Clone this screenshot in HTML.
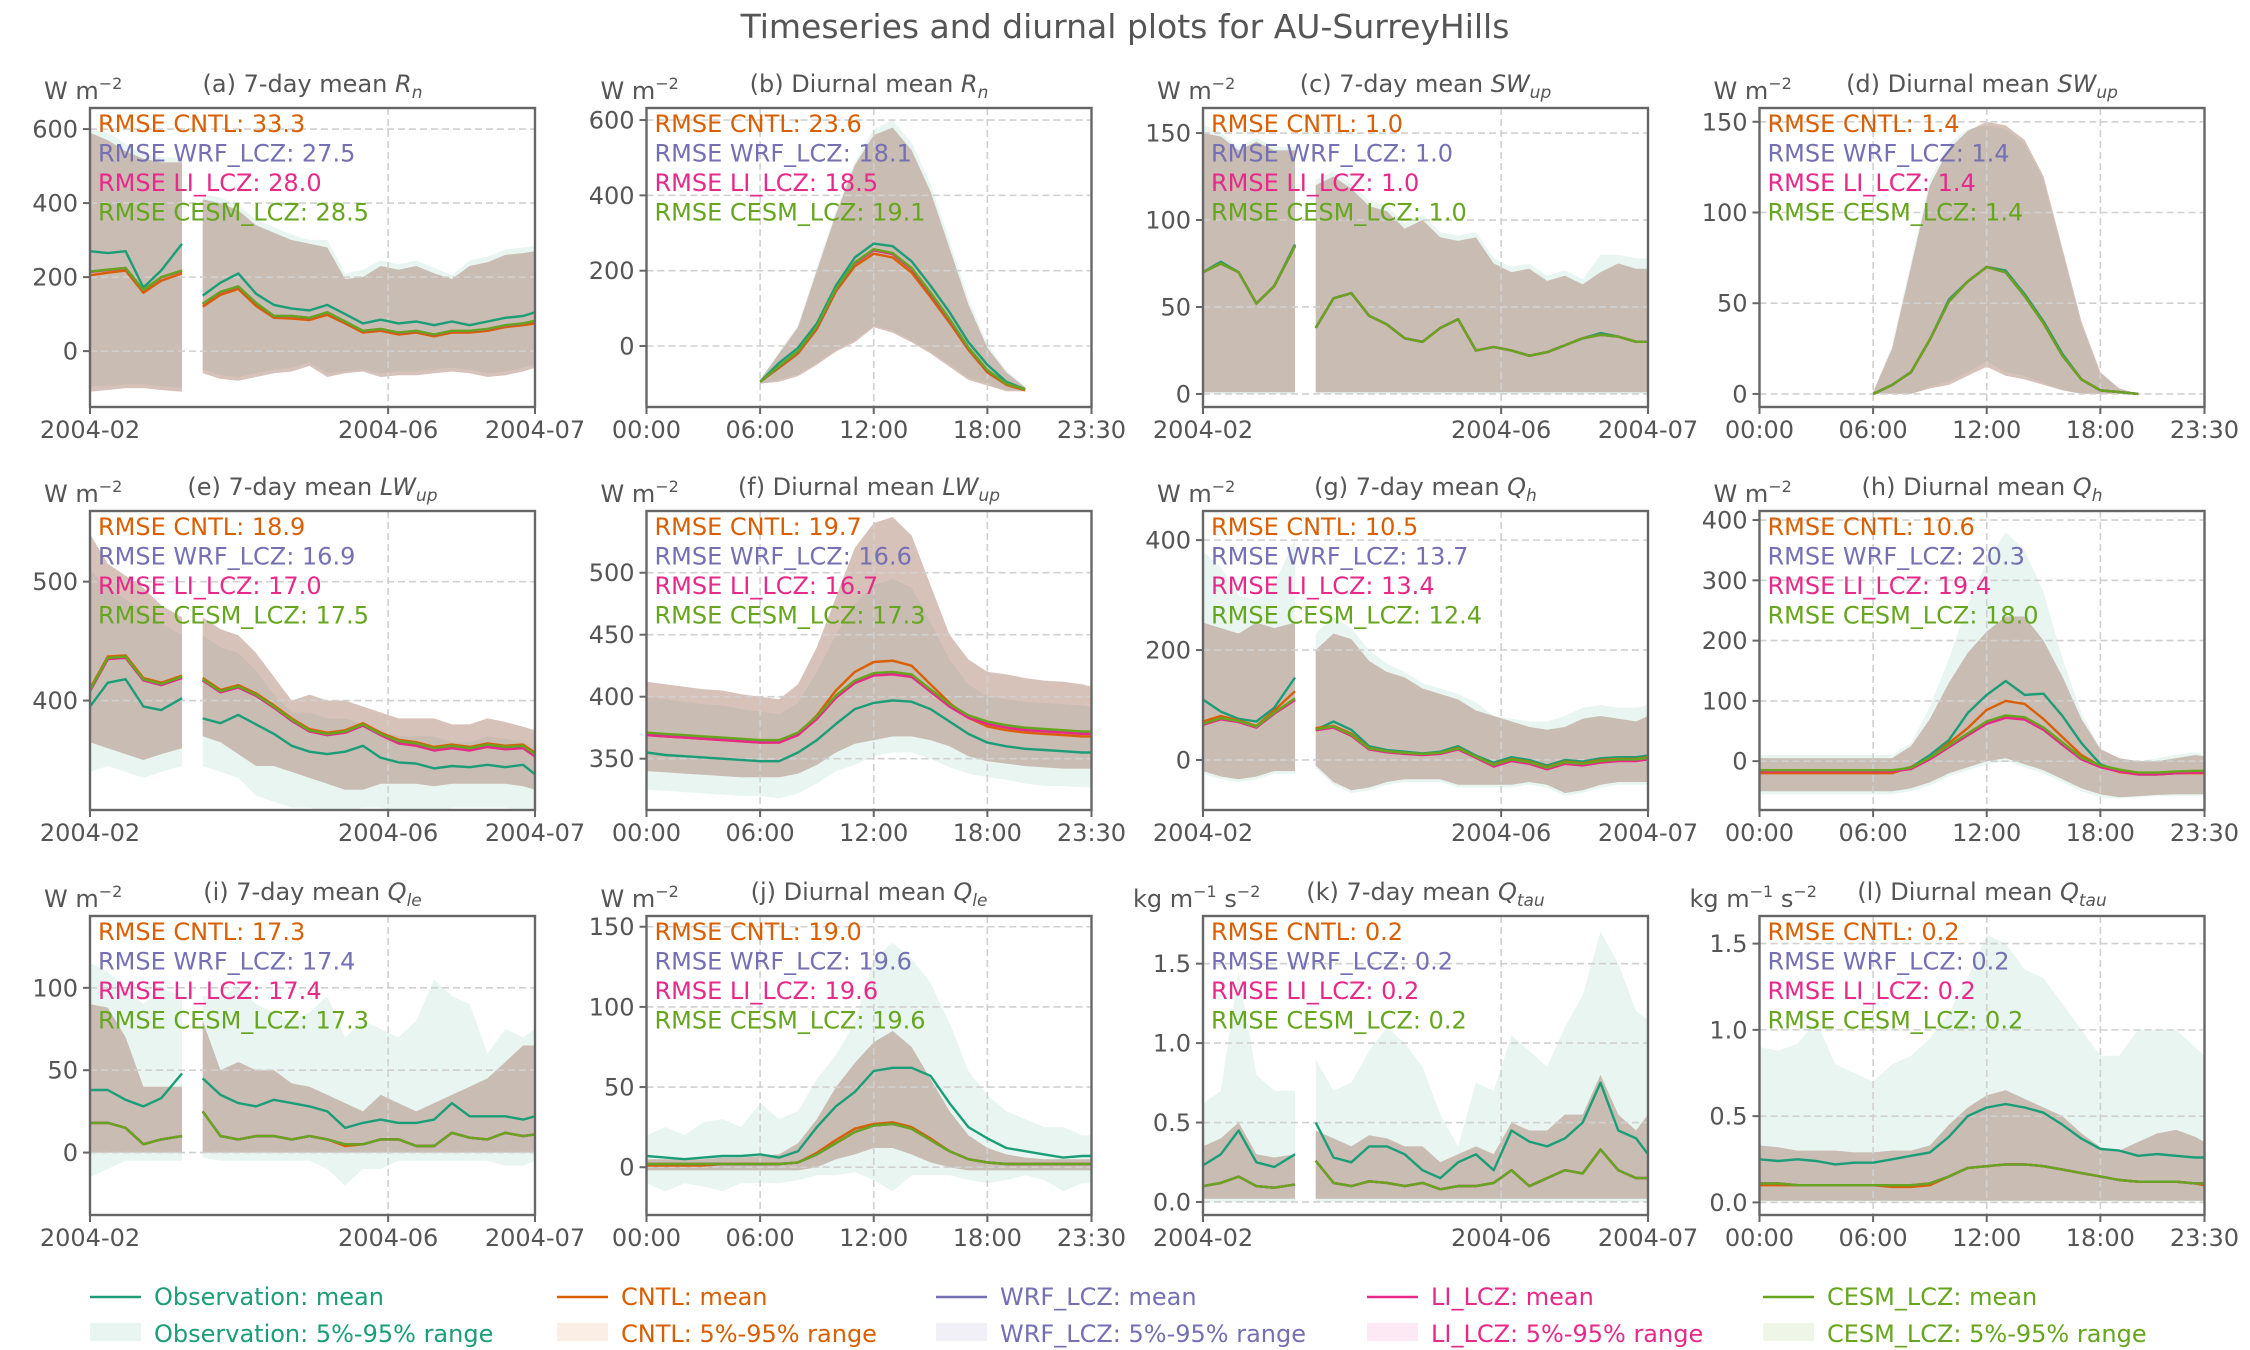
<!DOCTYPE html>
<html><head><meta charset="utf-8"><title>Timeseries and diurnal plots for AU-SurreyHills</title>
<style>html,body{margin:0;padding:0;background:#fff}svg{display:block}text{font-family:"DejaVu Sans","Liberation Sans",sans-serif}</style>
</head><body>
<svg id="fig" xmlns="http://www.w3.org/2000/svg" width="2250" height="1350" viewBox="0 0 2250 1350">
<rect x="0" y="0" width="2250" height="1350" fill="#fff"/>
<text x="1125" y="38" text-anchor="middle" font-size="33" fill="#555">Timeseries and diurnal plots for AU-SurreyHills</text>
</svg>
<script>
// ---- x coordinates ----
const tsDays = [0,6,12,18,24,31,35,38,44,50,56,62,68,74,80,86,92,98,104,110,116,122,128,134,140,146,150];
const tsTickVals = [0,100.5,150];
const tsTickLabels = ['2004-02','2004-06','2004-07'];
const hours = [0,1,2,3,4,5,6,7,8,9,10,11,12,13,14,15,16,17,18,19,20,21,22,23,23.5];
const hourTickVals = [0,6,12,18,23.5];
const hourTickLabels = ['00:00','06:00','12:00','18:00','23:30'];

// ---- (a) 7-day Rn ----
const aObs = [270,265,270,172,218,290,null,150,185,210,155,125,115,110,125,100,75,85,75,80,70,80,70,80,90,95,105];
const aCntl = [205,212,218,158,190,210,null,120,152,168,122,90,88,84,98,75,50,55,45,50,40,50,50,55,65,70,75];
const aWrf = [215,220,225,165,200,218,null,128,160,175,130,95,95,90,105,80,55,60,50,55,45,55,55,60,70,75,82];
const aLi = [214,219,224,164,199,217,null,127,159,174,129,94,94,89,104,79,54,59,49,54,44,54,54,59,69,74,81];
const aCesm = [215,220,225,165,200,218,null,128,160,175,130,95,95,90,105,80,55,60,50,55,45,55,55,60,70,75,82];
const aModHi = [590,570,540,520,510,510,null,410,400,380,340,320,300,290,280,195,200,230,220,230,210,195,230,240,260,265,270];
const aModLo = [-110,-105,-100,-100,-105,-110,null,-60,-75,-80,-70,-60,-55,-40,-70,-60,-55,-70,-65,-65,-60,-55,-60,-70,-65,-55,-45];
const aObsHi = [600,590,560,530,525,520,null,425,415,395,355,335,315,300,300,210,220,245,235,245,225,205,245,255,275,280,285];
const aObsLo = [-95,-95,-90,-90,-95,-100,null,-50,-65,-70,-60,-50,-45,-30,-60,-55,-50,-60,-55,-55,-50,-45,-50,-60,-55,-45,-35];
// ---- (b) diurnal Rn ----
const bObs = [null,null,null,null,null,null,-95,-45,-5,60,160,235,272,265,225,160,90,10,-50,-95,-115,null,null,null,null];
const bCntl = [null,null,null,null,null,null,-95,-58,-20,45,145,212,245,235,195,130,62,-10,-70,-103,-118,null,null,null,null];
const bWrf = [null,null,null,null,null,null,-95,-55,-15,50,150,220,255,245,205,140,70,-5,-65,-100,-115,null,null,null,null];
const bLi = [null,null,null,null,null,null,-95,-55,-15,50,150,220,254,244,204,139,69,-5,-65,-100,-115,null,null,null,null];
const bCesm = [null,null,null,null,null,null,-95,-54,-14,52,152,222,257,247,207,142,72,-4,-64,-100,-115,null,null,null,null];
const bModHi = [null,null,null,null,null,null,-90,-20,50,200,350,480,560,580,520,410,260,110,-5,-70,-110,null,null,null,null];
const bModLo = [null,null,null,null,null,null,-100,-95,-80,-50,-15,10,50,35,10,-20,-55,-90,-105,-120,-120,null,null,null,null];
const bObsHi = [null,null,null,null,null,null,-90,-15,55,210,360,490,575,600,540,430,280,125,5,-65,-108,null,null,null,null];
const bObsLo = [null,null,null,null,null,null,-100,-90,-75,-45,-10,15,55,40,15,-15,-50,-85,-100,-118,-118,null,null,null,null];
// ---- (c) 7-day SWup ----
const cObs = [70,76,70,52,62,86,null,38,55,58,45,40,32,30,38,43,25,27,25,22,24,28,32,35,33,30,30];
const cCntl = [70,75,70,52,62,85,null,38,55,58,45,40,32,30,38,43,25,27,25,22,24,28,32,34,33,30,30];
const cWrf = [70,75,70,52,62,85,null,38,55,58,45,40,32,30,38,43,25,27,25,22,24,28,32,34,33,30,30];
const cLi = [70,75,70,52,62,85,null,38,55,58,45,40,32,30,38,43,25,27,25,22,24,28,32,34,33,30,30];
const cCesm = [70,75,70,52,62,85,null,38,55,58,45,40,32,30,38,43,25,27,25,22,24,28,32,34,33,30,30];
const cModHi = [150,148,140,145,140,140,null,120,125,118,108,105,95,100,90,88,90,75,70,72,65,68,63,70,75,72,72];
const cModLo = [1,1,1,1,1,1,null,1,1,1,1,1,1,1,1,1,1,1,1,1,1,1,1,1,1,1,1];
const cObsHi = [155,150,142,147,142,142,null,123,128,121,111,108,98,103,93,91,93,78,73,75,68,71,66,80,80,78,78];
const cObsLo = [0,0,0,0,0,0,null,0,0,0,0,0,0,0,0,0,0,0,0,0,0,0,0,0,0,0,0];
// ---- (d) diurnal SWup ----
const dObs = [null,null,null,null,null,null,0,5,12,30,52,62,70,68,55,40,22,8,2,1,0,null,null,null,null];
const dCntl = [null,null,null,null,null,null,0,5,12,30,51,62,70,67,54,39,21,8,2,1,0,null,null,null,null];
const dWrf = [null,null,null,null,null,null,0,5,12,30,51,62,70,67,54,39,21,8,2,1,0,null,null,null,null];
const dLi = [null,null,null,null,null,null,0,5,12,30,51,62,70,67,54,39,21,8,2,1,0,null,null,null,null];
const dCesm = [null,null,null,null,null,null,0,5,12,30,51,62,70,67,54,39,21,8,2,1,0,null,null,null,null];
const dModHi = [null,null,null,null,null,null,1,25,70,115,135,145,150,148,140,120,80,40,12,3,0,null,null,null,null];
const dModLo = [null,null,null,null,null,null,0,0,0,3,5,10,15,10,8,5,2,0,0,0,0,null,null,null,null];
const dObsHi = [null,null,null,null,null,null,1,27,73,118,138,146,148,146,138,118,78,38,11,3,0,null,null,null,null];
const dObsLo = [null,null,null,null,null,null,0,0,0,4,7,12,18,12,10,6,2,0,0,0,0,null,null,null,null];
// ---- (e) 7-day LWup ----
const eObs = [395,415,418,395,392,402,null,385,381,388,380,372,362,357,355,357,362,352,348,347,343,345,344,346,344,346,338];
const eCntl = [410,437,438,419,415,421,null,419,409,413,406,396,385,376,373,375,381,373,367,365,361,363,361,364,362,363,356];
const eWrf = [408,435,436,417,413,419,null,417,407,411,404,394,383,374,371,373,379,371,365,363,359,361,359,362,360,361,354];
const eLi = [408,435,436,417,413,419,null,417,407,411,404,394,383,374,371,373,379,371,364,362,358,360,358,361,359,360,353];
const eCesm = [409,436,437,418,414,420,null,418,408,412,405,395,384,375,372,374,380,372,366,364,360,362,360,363,361,362,355];
const eModHi = [540,515,505,495,480,470,null,470,460,455,440,420,400,405,400,400,395,390,385,385,385,380,380,385,382,378,375];
const eModLo = [365,360,355,350,355,360,null,370,365,355,345,345,340,335,330,325,325,330,330,330,328,330,330,330,330,328,325];
const eObsHi = [510,495,485,475,465,455,null,455,445,440,425,405,390,390,385,385,380,375,370,370,370,365,365,370,368,365,360];
const eObsLo = [340,345,340,335,340,345,null,345,340,335,320,315,310,310,305,305,310,310,305,305,305,310,310,310,310,308,305];
// ---- (f) diurnal LWup ----
const fObs = [355,353,352,351,350,349,348,348,355,365,378,390,395,397,396,390,380,370,363,360,358,357,356,355,355];
const fCntl = [369,368,367,366,365,364,363,363,370,385,405,420,428,429,425,410,395,383,376,373,371,370,369,368,368];
const fWrf = [370,369,368,367,366,365,364,364,370,383,400,412,418,419,417,405,393,384,379,376,374,373,372,371,371];
const fLi = [369,368,367,366,365,364,363,363,369,382,399,411,417,418,416,404,392,383,378,375,373,372,371,370,370];
const fCesm = [371,370,369,368,367,366,365,365,371,384,401,413,419,420,418,406,394,385,380,377,375,374,373,372,372];
const fModHi = [412,410,408,406,405,402,400,398,410,440,480,520,540,545,530,490,450,430,420,418,415,413,412,410,408];
const fModLo = [340,339,338,337,336,335,335,335,338,345,355,362,365,368,368,365,360,352,348,346,344,343,342,342,342];
const fObsHi = [400,398,396,394,393,390,388,386,395,420,450,475,490,495,488,460,430,410,400,398,396,395,394,393,392];
const fObsLo = [325,324,323,322,321,320,320,318,322,330,340,345,352,355,355,350,343,338,335,333,330,328,328,327,327];
// ---- (g) 7-day Qh ----
const gObs = [110,88,75,70,95,150,null,55,70,55,25,18,15,12,15,25,8,-5,5,0,-10,0,-3,3,5,5,8];
const gCntl = [70,80,72,62,90,125,null,58,62,48,22,16,13,10,13,22,6,-8,2,-3,-13,-3,-6,0,2,2,5];
const gWrf = [65,75,70,60,85,110,null,55,60,45,20,15,12,10,12,20,5,-10,0,-5,-15,-5,-8,-3,0,0,3];
const gLi = [64,74,69,59,84,109,null,54,59,44,19,14,11,9,11,19,4,-12,-2,-7,-17,-7,-10,-5,-2,-2,1];
const gCesm = [66,76,71,61,86,112,null,56,61,46,21,16,13,11,13,21,6,-9,1,-4,-14,-4,-7,-2,1,1,4];
const gModHi = [250,240,230,250,240,250,null,200,230,220,180,160,150,130,120,110,90,80,70,60,55,60,75,80,75,70,80];
const gModLo = [-20,-30,-35,-30,-20,-20,null,-10,-40,-55,-50,-40,-35,-35,-35,-45,-45,-45,-45,-40,-45,-60,-55,-45,-40,-40,-40];
const gObsHi = [380,350,300,290,320,400,null,230,260,240,200,175,160,140,130,120,105,80,75,70,70,80,95,100,95,95,100];
const gObsLo = [-25,-35,-40,-35,-25,-25,null,-15,-45,-60,-55,-45,-40,-40,-40,-50,-50,-50,-50,-45,-50,-65,-60,-50,-45,-45,-45];
// ---- (h) diurnal Qh ----
const hObs = [-17,-17,-17,-17,-17,-17,-17,-17,-10,10,35,80,110,133,110,112,75,30,-5,-17,-22,-22,-20,-18,-18];
const hCntl = [-20,-20,-20,-20,-20,-20,-20,-20,-10,5,30,55,85,100,95,70,40,10,-8,-18,-22,-22,-20,-20,-20];
const hWrf = [-16,-16,-16,-16,-16,-16,-16,-16,-12,4,24,44,63,73,70,53,28,4,-9,-16,-21,-21,-19,-18,-18];
const hLi = [-17,-17,-17,-17,-17,-17,-17,-17,-13,3,23,43,62,72,69,52,27,3,-10,-17,-22,-22,-20,-19,-19];
const hCesm = [-15,-15,-15,-15,-15,-15,-15,-15,-11,6,26,46,66,76,73,56,31,6,-7,-14,-19,-19,-17,-16,-16];
const hModHi = [5,5,5,5,5,5,5,5,25,70,130,180,215,240,240,200,140,70,20,5,0,0,5,10,8];
const hModLo = [-50,-50,-50,-50,-50,-50,-50,-50,-45,-35,-20,-10,0,5,-5,-15,-30,-45,-55,-60,-58,-56,-55,-55,-55];
const hObsHi = [10,10,10,10,10,10,10,10,30,90,170,260,330,380,350,280,170,80,20,5,0,5,10,15,10];
const hObsLo = [-55,-55,-55,-55,-55,-55,-55,-55,-50,-40,-25,-15,-5,0,-10,-20,-35,-50,-60,-62,-60,-58,-58,-58,-58];
// ---- (i) 7-day Qle ----
const iObs = [38,38,32,28,33,48,null,45,35,30,28,32,30,28,25,15,18,20,18,18,20,30,22,22,22,20,22];
const iCntl = [18,18,15,5,8,10,null,25,10,8,10,10,8,10,8,4,5,8,8,4,4,12,9,8,12,10,11];
const iWrf = [18,18,15,5,8,10,null,25,10,8,10,10,8,10,8,5,5,8,8,4,4,12,9,8,12,10,11];
const iLi = [18,18,15,5,8,10,null,25,10,8,10,10,8,10,8,5,5,8,8,4,4,12,9,8,12,10,11];
const iCesm = [18,18,15,5,8,10,null,25,10,8,10,10,8,10,8,5,5,8,8,4,4,12,9,8,12,10,11];
const iModHi = [90,88,70,40,40,40,null,80,50,55,50,50,42,40,35,30,25,35,30,25,30,35,40,45,55,65,65];
const iModLo = [0,0,0,0,0,0,null,0,0,0,0,0,0,0,0,0,0,0,0,0,0,0,0,0,0,0,0];
const iObsHi = [115,110,100,90,100,95,null,95,95,100,90,85,80,85,95,70,80,75,70,80,105,95,90,60,75,70,75];
const iObsLo = [-15,-10,-5,-5,-5,-5,null,-3,-5,-5,-5,-5,-5,-5,-10,-20,-10,-10,-5,-5,-5,-5,-5,-5,-8,-8,-5];
// ---- (j) diurnal Qle ----
const jObs = [7,6,5,6,7,7,8,6,10,25,38,47,60,62,62,57,40,25,18,12,10,8,6,7,7];
const jCntl = [1,1,1,1,2,2,2,2,3,9,17,24,27,28,25,18,10,5,3,2,2,2,2,2,2];
const jWrf = [2,2,2,2,2,2,2,2,3,8,15,22,26,27,24,17,10,5,3,2,2,2,2,2,2];
const jLi = [2,2,2,2,2,2,2,2,3,8,15,22,26,27,24,17,10,5,3,2,2,2,2,2,2];
const jCesm = [2,2,2,2,2,2,2,2,3,8,15,22,26,27,24,17,10,5,3,2,2,2,2,2,2];
const jModHi = [5,5,5,5,6,6,7,8,15,30,50,65,78,85,75,55,35,20,12,8,6,5,5,5,5];
const jModLo = [-2,-2,-2,-2,-2,-2,-2,-2,-2,0,5,8,12,12,8,3,0,-2,-2,-2,-2,-2,-2,-2,-2];
const jObsHi = [20,25,20,28,30,25,40,30,35,55,70,90,130,140,130,115,90,60,45,35,30,25,25,20,20];
const jObsLo = [-10,-15,-10,-12,-15,-10,-10,-10,-8,-5,-5,-3,-8,-15,-5,-5,-5,-8,-10,-8,-5,-8,-15,-10,-10];
// ---- (k) 7-day Qtau ----
const kObs = [0.23,0.30,0.45,0.25,0.22,0.30,null,0.50,0.28,0.25,0.35,0.35,0.30,0.20,0.15,0.25,0.30,0.20,0.45,0.38,0.35,0.40,0.50,0.75,0.45,0.40,0.30];
const kCntl = [0.10,0.12,0.16,0.10,0.09,0.11,null,0.26,0.12,0.10,0.13,0.12,0.10,0.12,0.08,0.10,0.10,0.12,0.20,0.10,0.15,0.20,0.18,0.33,0.20,0.15,0.15];
const kWrf = [0.10,0.12,0.16,0.10,0.09,0.11,null,0.26,0.12,0.10,0.13,0.12,0.10,0.12,0.08,0.10,0.10,0.12,0.20,0.10,0.15,0.20,0.18,0.33,0.20,0.15,0.15];
const kLi = [0.10,0.12,0.16,0.10,0.09,0.11,null,0.26,0.12,0.10,0.13,0.12,0.10,0.12,0.08,0.10,0.10,0.12,0.20,0.10,0.15,0.20,0.18,0.33,0.20,0.15,0.15];
const kCesm = [0.10,0.12,0.16,0.10,0.09,0.11,null,0.26,0.12,0.10,0.13,0.12,0.10,0.12,0.08,0.10,0.10,0.12,0.20,0.10,0.15,0.20,0.18,0.33,0.20,0.15,0.15];
const kModHi = [0.35,0.40,0.50,0.30,0.28,0.30,null,0.45,0.40,0.35,0.42,0.40,0.35,0.35,0.25,0.30,0.35,0.30,0.50,0.45,0.45,0.55,0.55,0.80,0.55,0.45,0.55];
const kModLo = [0.02,0.02,0.02,0.02,0.02,0.02,null,0.02,0.02,0.02,0.02,0.02,0.02,0.02,0.02,0.02,0.02,0.02,0.02,0.02,0.02,0.02,0.02,0.02,0.02,0.02,0.02];
const kObsHi = [0.62,0.70,1.45,0.80,0.70,0.70,null,0.90,0.70,0.75,0.95,1.10,1.00,0.85,0.55,0.35,0.75,0.70,1.05,0.95,0.85,1.10,1.30,1.70,1.50,1.20,1.15];
const kObsLo = [0,0,0,0,0,0,null,0,0,0,0,0,0,0,0,0,0,0,0,0,0,0,0,0,0,0,0];
// ---- (l) diurnal Qtau ----
const lObs = [0.25,0.24,0.25,0.24,0.22,0.23,0.23,0.25,0.27,0.29,0.38,0.50,0.55,0.57,0.55,0.52,0.45,0.37,0.31,0.30,0.27,0.28,0.27,0.26,0.26];
const lCntl = [0.10,0.10,0.10,0.10,0.10,0.10,0.10,0.09,0.09,0.10,0.15,0.20,0.21,0.22,0.22,0.21,0.19,0.17,0.15,0.13,0.12,0.12,0.12,0.11,0.10];
const lWrf = [0.11,0.11,0.10,0.10,0.10,0.10,0.10,0.10,0.10,0.11,0.15,0.20,0.21,0.22,0.22,0.21,0.19,0.17,0.15,0.13,0.12,0.12,0.12,0.11,0.11];
const lLi = [0.11,0.11,0.10,0.10,0.10,0.10,0.10,0.10,0.10,0.11,0.15,0.20,0.21,0.22,0.22,0.21,0.19,0.17,0.15,0.13,0.12,0.12,0.12,0.11,0.11];
const lCesm = [0.11,0.11,0.10,0.10,0.10,0.10,0.10,0.10,0.10,0.11,0.15,0.20,0.21,0.22,0.22,0.21,0.19,0.17,0.15,0.13,0.12,0.12,0.12,0.11,0.11];
const lModHi = [0.33,0.32,0.30,0.30,0.30,0.29,0.29,0.30,0.30,0.33,0.45,0.55,0.62,0.65,0.60,0.55,0.50,0.40,0.32,0.30,0.35,0.40,0.42,0.38,0.35];
const lModLo = [0.01,0.01,0.01,0.01,0.01,0.01,0.01,0.01,0.01,0.01,0.01,0.01,0.01,0.01,0.01,0.01,0.01,0.01,0.01,0.01,0.01,0.01,0.01,0.01,0.01];
const lObsHi = [0.90,0.88,0.92,1.05,0.80,0.75,0.70,0.80,0.85,0.95,1.10,1.30,1.55,1.50,1.35,1.30,1.15,1.00,0.85,0.85,1.00,1.00,1.00,0.90,0.85];
const lObsLo = [0,0,0,0,0,0,0,0,0,0,0,0,0,0,0,0,0,0,0,0,0,0,0,0,0];

// ---- tick value arrays ----
const ticksRn = [0,200,400,600];
const ticksSW = [0,50,100,150];
const ticksLWe = [400,500];
const ticksLWf = [350,400,450,500];
const ticksQhg = [0,200,400];
const ticksQhh = [0,100,200,300,400];
const ticksQlei = [0,50,100];
const ticksQlej = [0,50,100,150];
const ticksTau = [0,0.5,1.0,1.5];

// ---- RMSE values (CNTL, WRF_LCZ, LI_LCZ, CESM_LCZ) ----
const rmseA = ['33.3','27.5','28.0','28.5'];
const rmseB = ['23.6','18.1','18.5','19.1'];
const rmseC = ['1.0','1.0','1.0','1.0'];
const rmseD = ['1.4','1.4','1.4','1.4'];
const rmseE = ['18.9','16.9','17.0','17.5'];
const rmseF = ['19.7','16.6','16.7','17.3'];
const rmseG = ['10.5','13.7','13.4','12.4'];
const rmseH = ['10.6','20.3','19.4','18.0'];
const rmseI = ['17.3','17.4','17.4','17.3'];
const rmseJ = ['19.0','19.6','19.6','19.6'];
const rmseK = ['0.2','0.2','0.2','0.2'];
const rmseL = ['0.2','0.2','0.2','0.2'];

const COL = {obs:'#1b9e77', cntl:'#d95f02', wrf:'#7570b3', li:'#e7298a', cesm:'#66a61e'};
const MODELNAMES = ['CNTL','WRF_LCZ','LI_LCZ','CESM_LCZ'];
const MODELKEYS = ['cntl','wrf','li','cesm'];
const svg = document.getElementById('fig');
const NS = 'http://www.w3.org/2000/svg';
function mk(tag, attrs, parent){ const e=document.createElementNS(NS,tag); for(const k in attrs) e.setAttribute(k,attrs[k]); (parent||svg).appendChild(e); return e; }

const W = 445, H = 299;
const colX = [90, 646.5, 1203, 1759.5];
const rowY = [108, 511, 916];

const panels = [
 {id:'a',r:0,c:0,ts:true,ymin:-151,ymax:657,yt:ticksRn,dec:false,sym:'R',sub:'n',unit:'W',obs:aObs,obsLo:aObsLo,obsHi:aObsHi,m:[aCntl,aWrf,aLi,aCesm],lo:aModLo,hi:aModHi,rmse:rmseA},
 {id:'b',r:0,c:1,ts:false,ymin:-162,ymax:632,yt:ticksRn,dec:false,sym:'R',sub:'n',unit:'W',obs:bObs,obsLo:bObsLo,obsHi:bObsHi,m:[bCntl,bWrf,bLi,bCesm],lo:bModLo,hi:bModHi,rmse:rmseB},
 {id:'c',r:0,c:2,ts:true,ymin:-7.5,ymax:164.4,yt:ticksSW,dec:false,sym:'SW',sub:'up',unit:'W',obs:cObs,obsLo:cObsLo,obsHi:cObsHi,m:[cCntl,cWrf,cLi,cCesm],lo:cModLo,hi:cModHi,rmse:rmseC},
 {id:'d',r:0,c:3,ts:false,ymin:-7.2,ymax:157.6,yt:ticksSW,dec:false,sym:'SW',sub:'up',unit:'W',obs:dObs,obsLo:dObsLo,obsHi:dObsHi,m:[dCntl,dWrf,dLi,dCesm],lo:dModLo,hi:dModHi,rmse:rmseD},
 {id:'e',r:1,c:0,ts:true,ymin:308,ymax:559.4,yt:ticksLWe,dec:false,sym:'LW',sub:'up',unit:'W',obs:eObs,obsLo:eObsLo,obsHi:eObsHi,m:[eCntl,eWrf,eLi,eCesm],lo:eModLo,hi:eModHi,rmse:rmseE},
 {id:'f',r:1,c:1,ts:false,ymin:308.6,ymax:549.8,yt:ticksLWf,dec:false,sym:'LW',sub:'up',unit:'W',obs:fObs,obsLo:fObsLo,obsHi:fObsHi,m:[fCntl,fWrf,fLi,fCesm],lo:fModLo,hi:fModHi,rmse:rmseF},
 {id:'g',r:1,c:2,ts:true,ymin:-91,ymax:453,yt:ticksQhg,dec:false,sym:'Q',sub:'h',unit:'W',obs:gObs,obsLo:gObsLo,obsHi:gObsHi,m:[gCntl,gWrf,gLi,gCesm],lo:gModLo,hi:gModHi,rmse:rmseG},
 {id:'h',r:1,c:3,ts:false,ymin:-81,ymax:415,yt:ticksQhh,dec:false,sym:'Q',sub:'h',unit:'W',obs:hObs,obsLo:hObsLo,obsHi:hObsHi,m:[hCntl,hWrf,hLi,hCesm],lo:hModLo,hi:hModHi,rmse:rmseH},
 {id:'i',r:2,c:0,ts:true,ymin:-37.9,ymax:143.6,yt:ticksQlei,dec:false,sym:'Q',sub:'le',unit:'W',obs:iObs,obsLo:iObsLo,obsHi:iObsHi,m:[iCntl,iWrf,iLi,iCesm],lo:iModLo,hi:iModHi,rmse:rmseI},
 {id:'j',r:2,c:1,ts:false,ymin:-29.8,ymax:156.7,yt:ticksQlej,dec:false,sym:'Q',sub:'le',unit:'W',obs:jObs,obsLo:jObsLo,obsHi:jObsHi,m:[jCntl,jWrf,jLi,jCesm],lo:jModLo,hi:jModHi,rmse:rmseJ},
 {id:'k',r:2,c:2,ts:true,ymin:-0.082,ymax:1.80,yt:ticksTau,dec:true,sym:'Q',sub:'tau',unit:'kg',obs:kObs,obsLo:kObsLo,obsHi:kObsHi,m:[kCntl,kWrf,kLi,kCesm],lo:kModLo,hi:kModHi,rmse:rmseK},
 {id:'l',r:2,c:3,ts:false,ymin:-0.073,ymax:1.66,yt:ticksTau,dec:true,sym:'Q',sub:'tau',unit:'kg',obs:lObs,obsLo:lObsLo,obsHi:lObsHi,m:[lCntl,lWrf,lLi,lCesm],lo:lModLo,hi:lModHi,rmse:rmseL}
];

function linePath(xs, ys, sx, sy){
  let d='', pen=false;
  for(let i=0;i<xs.length;i++){
    if(ys[i]===null||ys[i]===undefined){pen=false;continue;}
    d += (pen?'L':'M') + sx(xs[i]).toFixed(1)+','+sy(ys[i]).toFixed(1);
    pen=true;
  }
  return d;
}
function areaPath(xs, lo, hi, sx, sy){
  let d='', seg=[];
  const flush=()=>{ if(seg.length>1){ let s='M'; seg.forEach((i,k)=>{ s+=(k?'L':'')+sx(xs[i]).toFixed(1)+','+sy(hi[i]).toFixed(1); }); for(let k=seg.length-1;k>=0;k--){const i=seg[k]; s+='L'+sx(xs[i]).toFixed(1)+','+sy(lo[i]).toFixed(1);} d+=s+'Z'; } seg=[]; };
  for(let i=0;i<xs.length;i++){ if(lo[i]===null||hi[i]===null||lo[i]===undefined||hi[i]===undefined){flush();} else seg.push(i); }
  flush();
  return d;
}

panels.forEach(p=>{
  const x0=colX[p.c], y0=rowY[p.r];
  const xs = p.ts ? tsDays : hours;
  const xmin=0, xmax = p.ts ? 150 : 23.5;
  const sx = v => x0 + (v-xmin)/(xmax-xmin)*W;
  const sy = v => y0 + H - (v-p.ymin)/(p.ymax-p.ymin)*H;
  const g = mk('g',{});
  
  
  const clipId='clip'+p.id;
  const cp = mk('clipPath',{id:clipId},g); mk('rect',{x:x0,y:y0,width:W,height:H},cp);
  const plot = mk('g',{'clip-path':'url(#'+clipId+')'},g);
  const of = mk('path',{d:areaPath(xs,p.obsLo,p.obsHi,sx,sy),fill:COL.obs,'fill-opacity':0.10},plot);
  
  
  MODELKEYS.forEach((k,mi)=>{
    const f = mk('path',{d:areaPath(xs,p.lo,p.hi,sx,sy),fill:COL[k],'fill-opacity':0.12},plot);
    
    
  });
  const tv = p.ts ? tsTickVals : hourTickVals;
  tv.forEach(v=>{ if(v>xmin && v<xmax){ const gl=mk('line',{x1:sx(v),x2:sx(v),y1:y0,y2:y0+H,stroke:'#d0d0d0','stroke-width':1.6,'stroke-dasharray':'7,4'},plot);
    
     }});
  p.yt.forEach(v=>{ const gl=mk('line',{x1:x0,x2:x0+W,y1:sy(v),y2:sy(v),stroke:'#d0d0d0','stroke-width':1.6,'stroke-dasharray':'7,4'},plot);
    
     });
  const ol = mk('path',{d:linePath(xs,p.obs,sx,sy),fill:'none',stroke:COL.obs,'stroke-width':2.4,'stroke-linejoin':'round'},plot);
  
  
  MODELKEYS.forEach((k,mi)=>{
    const l = mk('path',{d:linePath(xs,p.m[mi],sx,sy),fill:'none',stroke:COL[k],'stroke-width':2.4,'stroke-linejoin':'round'},plot);
    
    
  });
  MODELKEYS.forEach((k,mi)=>{
    const t = mk('text',{x:x0+8,y:y0+24+mi*29.5,'font-size':24,fill:COL[k]},g);
    t.textContent = 'RMSE '+MODELNAMES[mi]+': '+p.rmse[mi];
    
    
  });
  const sp = mk('rect',{x:x0,y:y0,width:W,height:H,fill:'none',stroke:'#666','stroke-width':2.4},g);
  
  
  const tl = p.ts ? tsTickLabels : hourTickLabels;
  tv.forEach((v,i)=>{
    mk('line',{x1:sx(v),x2:sx(v),y1:y0+H,y2:y0+H+7,stroke:'#666','stroke-width':2},g);
    const t = mk('text',{x:sx(v),y:y0+H+31,'font-size':24,fill:'#555','text-anchor':'middle'},g);
    t.textContent = tl[i];
    
    
  });
  p.yt.forEach(v=>{
    mk('line',{x1:x0-7,x2:x0,y1:sy(v),y2:sy(v),stroke:'#666','stroke-width':2},g);
    const t = mk('text',{x:x0-12,y:sy(v)+8.5,'font-size':24,fill:'#555','text-anchor':'end'},g);
    t.textContent = p.dec ? v.toFixed(1) : String(v);
    
    
  });
  const tt = mk('text',{x:x0+W/2,y:y0-16,'font-size':24,fill:'#555','text-anchor':'middle'},g);
  
  
  const kind = p.ts ? '7-day mean ' : 'Diurnal mean ';
  const t1 = mk('tspan',{},tt); t1.textContent='('+p.id+') '+kind;
  const t2 = mk('tspan',{'font-style':'italic'},tt); t2.textContent=p.sym;
  const t3 = mk('tspan',{'font-style':'italic','font-size':17,dy:6},tt); t3.textContent=p.sub;
  const yl = mk('text',{x: p.unit==='W' ? x0-46 : x0-70, y:y0-9,'font-size':24,fill:'#555'},g);
  
  
  if(p.unit==='W'){ const a=mk('tspan',{},yl); a.textContent='W m'; const b=mk('tspan',{'font-size':16,dy:-10},yl); b.textContent='−2'; }
  else { const a=mk('tspan',{},yl); a.textContent='kg m'; const b=mk('tspan',{'font-size':16,dy:-10},yl); b.textContent='−1'; const c=mk('tspan',{dy:10},yl); c.textContent=' s'; const d=mk('tspan',{'font-size':16,dy:-10},yl); d.textContent='−2'; }
});

const legX = [90, 557, 936, 1367, 1763];
const legKeys = ['obs','cntl','wrf','li','cesm'];
const legNames = ['Observation','CNTL','WRF_LCZ','LI_LCZ','CESM_LCZ'];
const legFill = ['#e8f5f1','#fbeee5','#f1f0f7','#fce9f3','#eff6e8'];
legKeys.forEach((k,i)=>{
  const x=legX[i];
  const g1 = mk('g',{});
  
  
  mk('line',{x1:x,x2:x+51,y1:1297,y2:1297,stroke:COL[k],'stroke-width':2.6},g1);
  const t=mk('text',{x:x+64,y:1305,'font-size':24,fill:COL[k]},g1); t.textContent=legNames[i]+': mean';
  const g2 = mk('g',{});
  
  
  mk('rect',{x:x,y:1323,width:51,height:18,fill:legFill[i]},g2);
  const t2=mk('text',{x:x+64,y:1342,'font-size':24,fill:COL[k]},g2); t2.textContent=legNames[i]+': 5%-95% range';
});
</script>
</body></html>
